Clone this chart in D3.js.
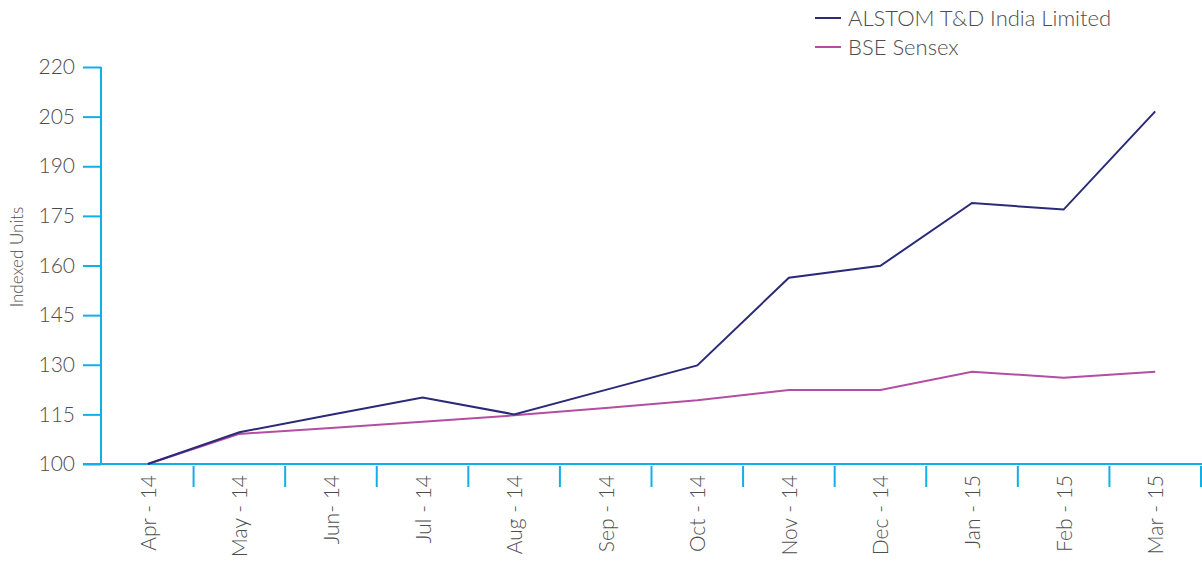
<!DOCTYPE html>
<html><head><meta charset="utf-8">
<script src="https://cdn.jsdelivr.net/npm/d3@7"></script>
<style>
body{margin:0;background:#fff;}
text{font-family:Lato,"Open Sans",sans-serif;font-weight:300;fill:#4d4d4d;}
</style></head>
<body><svg id="c" width="1202" height="566"></svg>
<script>
const months = ["Apr - 14","May - 14","Jun- 14","Jul - 14","Aug - 14","Sep - 14","Oct - 14","Nov - 14","Dec - 14","Jan - 15","Feb - 15","Mar - 15"];
const alstom = [100, 109.6, 114.9, 120.1, 115.0, 122.4, 129.8, 156.3, 159.9, 178.9, 176.9, 206.6];
const sensex = [100, 109.1, 110.9, 112.8, 114.7, 116.9, 119.3, 122.4, 122.4, 127.9, 126.1, 127.9];
const yTicks = [100,115,130,145,160,175,190,205,220];
const seriesNames = ["ALSTOM T&D India Limited","BSE Sensex"];
const colors = ["#2a2a78","#b34ea3"];
const axisColor = "#12aee8";

const svg = d3.select("#c");
const x = d3.scaleBand().domain(months).range([102,1201]);
const y = d3.scaleLinear().domain([100,220]).range([464,67]);

// y axis
const ya = svg.append("g").attr("transform","translate(101,0)")
  .call(d3.axisLeft(y).tickValues(yTicks).tickSize(18).tickPadding(8));
ya.select(".domain").attr("stroke",axisColor).attr("stroke-width",2).attr("d","M0,67V464");
ya.selectAll(".tick line").attr("stroke",axisColor).attr("stroke-width",2);
ya.selectAll(".tick text").style("font-size","21px").style("fill","#4d4d4d").style("font-family","Lato,'Open Sans',sans-serif").style("font-weight",300);

// x axis baseline
svg.append("line").attr("x1",83).attr("x2",1202).attr("y1",y(100)).attr("y2",y(100))
  .attr("stroke",axisColor).attr("stroke-width",2);
// x ticks at band boundaries
const bounds = months.slice(1).map(m=>x(m)).concat([x(months[months.length-1])+x.bandwidth()]);
svg.selectAll(".xt").data(bounds).enter().append("line")
  .attr("x1",d=>d).attr("x2",d=>d).attr("y1",466).attr("y2",487)
  .attr("stroke",axisColor).attr("stroke-width",2);
// x labels
svg.selectAll(".xl").data(months).enter().append("text")
  .attr("transform",d=>`translate(${x(d)+x.bandwidth()/2+8},475) rotate(-90)`)
  .attr("text-anchor","end").style("font-size","21px").text(d=>d);

// y title
svg.append("text").attr("transform","translate(23,257) rotate(-90)")
  .attr("text-anchor","middle").style("font-size","17px").text("Indexed Units");

// lines
const line = d3.line().x((d,i)=>x(months[i])+x.bandwidth()/2).y(d=>y(d));
[sensex, alstom].forEach((s,k)=>{
  svg.append("path").attr("d",line(s)).attr("fill","none")
    .attr("stroke",colors[1-k]).attr("stroke-width",2);
});

// legend
seriesNames.forEach((n,i)=>{
  const yy = 18 + i*29;
  svg.append("line").attr("x1",815).attr("x2",841).attr("y1",yy).attr("y2",yy)
    .attr("stroke",colors[i]).attr("stroke-width",2);
  svg.append("text").attr("x",848).attr("y",yy+8).style("font-size","22px").text(n);
});
</script></body></html>
